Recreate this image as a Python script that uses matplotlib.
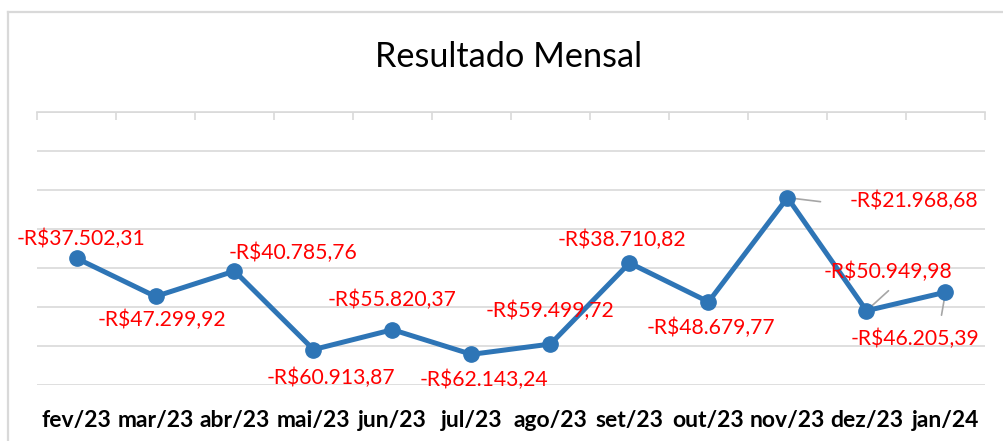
import matplotlib
matplotlib.use("Agg")
import matplotlib.pyplot as plt
from matplotlib.lines import Line2D
from matplotlib.ticker import MultipleLocator

months = ["fev/23", "mar/23", "abr/23", "mai/23", "jun/23", "jul/23",
          "ago/23", "set/23", "out/23", "nov/23", "dez/23", "jan/24"]
values = [-37502.31, -47299.92, -40785.76, -60913.87, -55820.37, -62143.24,
          -59499.72, -38710.82, -48679.77, -21968.68, -50949.98, -46205.39]

# label offsets in pixels (dx, dy) relative to each point
label_offsets = [(4, 19), (6, -23), (59, 18), (17, -28), (0, 30), (12, -26),
                 (0, 33), (-8, 23), (2, -26), (126, -3), (22, 39), (-30, -47)]
# leader lines (index, dx, dy)
leaders = [(9, 33, -4), (10, 22, 20), (11, -4, -23)]


def brl(v):
    s = f"{abs(v):,.2f}".replace(",", "X").replace(".", ",").replace("X", ".")
    return ("-" if v < 0 else "") + "R$" + s


plt.rcParams['font.family'] = ['Lato', 'DejaVu Sans']

W, H = 1004, 441
fig = plt.figure(figsize=(W / 100, H / 100), dpi=100)
fig.patch.set_facecolor("white")

# chart frame
fig.add_artist(Line2D([8 / W, 8 / W], [0, 1 - 12 / H], transform=fig.transFigure,
                      color="#D9D9D9", lw=1.6))
fig.add_artist(Line2D([8 / W, 1], [1 - 12 / H, 1 - 12 / H], transform=fig.transFigure,
                      color="#D9D9D9", lw=1.6))

ax = fig.add_axes([37 / W, 1 - 385 / H, (985 - 37) / W, (385 - 112) / H])
x = list(range(len(months)))
ax.set_xlim(-0.5, len(months) - 0.5)
ax.set_ylim(-70000, 0)
ax.yaxis.set_major_locator(MultipleLocator(10000))
ax.grid(axis="y", color="#D9D9D9", lw=1.2)
ax.set_axisbelow(True)
for s in ["left", "right", "bottom"]:
    ax.spines[s].set_visible(False)
ax.spines["top"].set_color("#D9D9D9")
ax.spines["top"].set_linewidth(1.2)
ax.set_yticklabels([])
ax.tick_params(axis="y", length=0)

ax.set_xticks(x)
ax.set_xticklabels(months, fontsize=16.5, fontweight="bold")
ax.tick_params(axis="x", which="major", length=0, pad=18)
ax.set_xticks([i - 0.5 for i in range(len(months) + 1)], minor=True)
ax.tick_params(axis="x", which="minor", top=True, bottom=False, direction="in",
               length=6, width=1.2, color="#D9D9D9")

ax.plot(x, values, color="#2E75B6", lw=3.6, marker="o", markersize=11,
        solid_capstyle="round", zorder=3)

for i, dx, dy in leaders:
    ax.annotate("", xy=(x[i], values[i]), xytext=(dx, dy), textcoords="offset pixels",
                arrowprops=dict(arrowstyle="-", color="#A6A6A6", lw=1.2,
                                shrinkA=0, shrinkB=0), zorder=2)

for xi, v, (dx, dy) in zip(x, values, label_offsets):
    ax.annotate(brl(v), xy=(xi, v), xytext=(dx, dy), textcoords="offset pixels",
                ha="center", va="center", color="#FF0000", fontsize=15.2,
                annotation_clip=False, zorder=4)

fig.text(509 / W, 1 - 57 / H, "Resultado Mensal", ha="center", va="center",
         fontsize=24.7, color="black")

fig.savefig("out.png", dpi=100)
